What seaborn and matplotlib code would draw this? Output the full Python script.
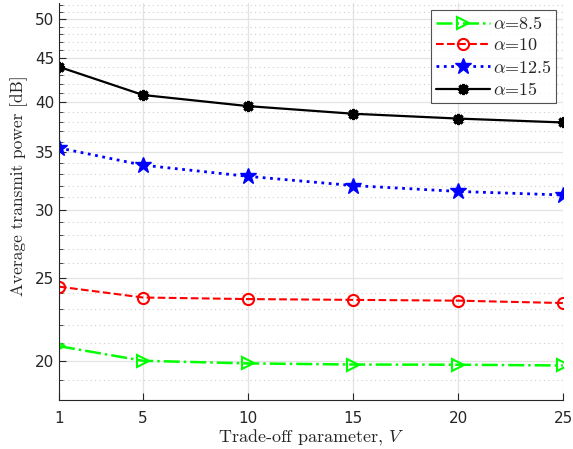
import numpy as np
import pandas as pd
import seaborn as sns
import matplotlib
matplotlib.use("Agg")
import matplotlib.pyplot as plt
from matplotlib.ticker import FixedLocator, NullFormatter, FixedFormatter

V = [1, 5, 10, 15, 20, 25]
p_85 = [20.8, 20.0, 19.86, 19.8, 19.79, 19.75]
p_10 = [24.4, 23.7, 23.6, 23.55, 23.5, 23.35]
p_125 = [35.4, 33.8, 32.8, 32.0, 31.5, 31.2]
p_15 = [44.0, 40.8, 39.6, 38.8, 38.3, 37.9]
labels = [r'$\alpha$=8.5', r'$\alpha$=10', r'$\alpha$=12.5', r'$\alpha$=15']
yticks = [20, 25, 30, 35, 40, 45, 50]
xticks = [1, 5, 10, 15, 20, 25]

sns.set_theme(style="white")
plt.rcParams['font.family'] = ['DejaVu Sans']
plt.rcParams['mathtext.fontset'] = 'cm'
plt.rcParams['axes.unicode_minus'] = False

fig = plt.figure(figsize=(5.73, 4.49), dpi=100)
ax = fig.add_axes([0.103, 0.109, 0.880, 0.884])

styles = [
    dict(color=(0, 1, 0), ls='-.', marker='>', mfc='none', ms=9, mew=1.5, lw=1.8),
    dict(color=(1, 0, 0), ls='--', marker='o', mfc='none', ms=8, mew=1.5, lw=1.5),
    dict(color=(0, 0, 1), ls=':', marker='*', mfc=(0, 0, 1), ms=12, mew=1, lw=2.0),
    dict(color='black', ls='-', marker=(8, 2, 0), mfc='black', ms=8, mew=2.2, lw=1.6),
]
series = [p_85, p_10, p_125, p_15]
for vals, lab, st in zip(series, labels, styles):
    df = pd.DataFrame({'V': V, 'P': vals})
    sns.lineplot(data=df, x='V', y='P', ax=ax, label=lab, color=st['color'],
                 linestyle=st['ls'], marker=st['marker'], markerfacecolor=st['mfc'],
                 markeredgecolor=st['color'], markersize=st['ms'],
                 markeredgewidth=st['mew'], linewidth=st['lw'])

ax.set_yscale('log')
ax.set_ylim(18, 52.2)
ax.set_xlim(1, 25)
ax.yaxis.set_major_locator(FixedLocator(yticks))
ax.yaxis.set_major_formatter(FixedFormatter([str(t) for t in yticks]))
minor = [v for v in range(18, 53) if v not in yticks]
ax.yaxis.set_minor_locator(FixedLocator(minor))
ax.yaxis.set_minor_formatter(NullFormatter())
ax.set_xticks(xticks)
ax.set_xticklabels([str(t) for t in xticks])

ax.grid(which='major', axis='both', color='#e3e3e3', lw=0.9, ls='-')
ax.grid(which='minor', axis='y', color='#cfcfcf', lw=0.8, ls=(0, (1, 3)))
ax.set_axisbelow(True)

for s in ['top', 'right']:
    ax.spines[s].set_visible(False)
for s in ['left', 'bottom']:
    ax.spines[s].set_color('#262626')
    ax.spines[s].set_linewidth(0.8)
ax.tick_params(which='both', direction='in', colors='#262626', labelsize=11)
ax.tick_params(which='major', length=5, width=0.8, left=True, bottom=True)
ax.tick_params(which='minor', length=3, width=0.6, left=True)
ax.tick_params(axis='x', pad=8)

ax.set_xlabel(r'Trade-off parameter, $V$', fontsize=13, family='cmr10', labelpad=1)
ax.set_ylabel('Average transmit power [dB]', fontsize=12.5, family='cmr10')
ax.yaxis.set_label_coords(-0.062, 0.54)

leg = ax.legend(loc='upper right', prop={'family': 'cmr10', 'size': 13}, frameon=True,
                fancybox=False, edgecolor='#262626', borderpad=0.25, labelspacing=0.3,
                handlelength=3.0, handletextpad=0.15, borderaxespad=0.4)
leg.get_frame().set_linewidth(0.8)

fig.savefig('out.png', dpi=100)
